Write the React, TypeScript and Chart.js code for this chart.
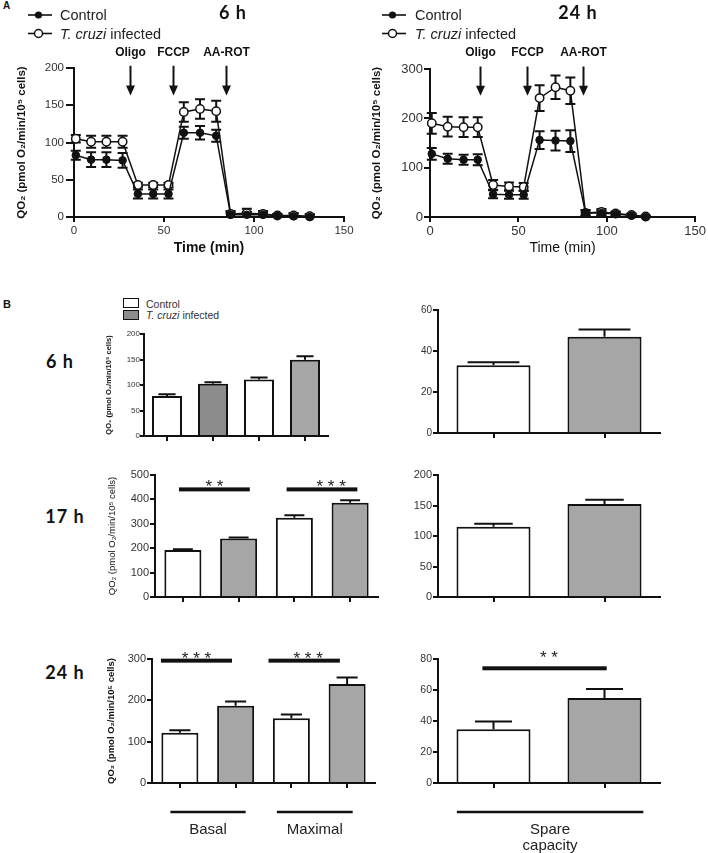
import React, { useEffect, useRef } from 'react';
import { Chart, registerables } from 'chart.js';

Chart.register(...registerables);

const FONT = "'Liberation Sans', Arial, Helvetica, sans-serif";
const HEAD_FONT = "Lato, 'Open Sans', 'Liberation Sans', sans-serif";
const INK = '#111';
const TICK_INK = '#333';
const QO2_TITLE = 'QO₂ (pmol O₂/min/10⁵ cells)';

// ---------------- Panel A : oxygen consumption traces ----------------
const TIME_6H = [1, 9.5, 18, 27, 35.5, 44, 52.5, 61, 70, 79, 87, 96, 105, 113, 122, 131];
const CONTROL_6H = [83, 77, 77, 76, 31, 31, 31, 113, 113, 109, 3, 3, 3, 2, 1, 0];
const CONTROL_6H_SEM = [6, 10, 10, 10, 6, 6, 6, 8, 9, 8, 3, 4, 3, 2, 4, 4];
const INFECTED_6H = [105, 101, 101, 101, 43, 43, 43, 141, 145, 142, 4, 5, 4, 2, 2, 1];
const INFECTED_6H_SEM = [5, 8, 8, 8, 3, 3, 3, 13, 13, 14, 4, 6, 4, 2, 3, 2];

const TIME_24H = [1, 10, 19, 27, 35.7, 44.7, 53, 62, 71, 79.4, 88, 97, 105, 114, 122];
const CONTROL_24H = [128, 118, 116, 116, 46, 45, 45, 156, 155, 154, 8, 8, 6, 3, 0];
const CONTROL_24H_SEM = [12, 10, 10, 11, 8, 8, 8, 18, 20, 22, 5, 5, 4, 3, 2];
const INFECTED_24H = [190, 183, 182, 182, 65, 62, 61, 241, 263, 256, 8, 10, 7, 4, 1];
const INFECTED_24H_SEM = [21, 20, 20, 20, 10, 8, 8, 26, 24, 27, 6, 6, 4, 3, 2];

const INJECTIONS = ['Oligo', 'FCCP', 'AA-ROT'];
const INJECTION_TIMES_6H = [31, 55.2, 84.3];
const INJECTION_TIMES_24H = [28.2, 55.1, 86.5];
const ARROW_SPAN_6H: [number, number] = [203, 163];
const ARROW_SPAN_24H: [number, number] = [305, 246];

// ---------------- Panel B : bar charts ----------------
const BAR_CATEGORIES = ['Basal control', 'Basal T. cruzi', 'Maximal control', 'Maximal T. cruzi'];
const SPARE_CATEGORIES = ['Control', 'T. cruzi infected'];

const QO2_6H = [78.5, 102.5, 111, 149.5];
const QO2_6H_SEM = [3.5, 3, 3.5, 7];
const SPARE_6H = [33, 47];
const SPARE_6H_SEM = [1.5, 3.5];

const QO2_17H = [193, 240, 325, 386];
const QO2_17H_SEM = [3, 4, 10, 11];
const SPARE_17H = [115, 152.5];
const SPARE_17H_SEM = [5, 7];

const QO2_24H = [121.5, 187, 156.5, 239.5];
const QO2_24H_SEM = [6, 10, 9.5, 15.5];
const SPARE_24H = [34.6, 54.8];
const SPARE_24H_SEM = [5, 5.8];

type Sig = { from: number; to: number; y: number; stars: string; at?: number };
const SIG_17H: Sig[] = [
  { from: -0.07, to: 1.2, y: 441, stars: '* *' },
  { from: 1.86, to: 3.13, y: 441, stars: '* * *', at: 2.66 },
];
const SIG_24H: Sig[] = [
  { from: -0.34, to: 0.935, y: 296, stars: '* * *' },
  { from: 1.59, to: 2.87, y: 296, stars: '* * *', at: 2.3 },
];
const SIG_24H_SPARE: Sig[] = [{ from: -0.1, to: 1.02, y: 74, stars: '* *', at: 0.5 }];

type Group = { from: number; to: number; label: string[] };
const GROUPS_LEFT: Group[] = [
  { from: -0.17, to: 1.18, label: ['Basal'] },
  { from: 1.74, to: 3.1, label: ['Maximal'] },
];
const GROUPS_RIGHT: Group[] = [{ from: -0.33, to: 1.35, label: ['Spare', 'capacity'] }];

const WHITE = '#ffffff';
const GRAY = '#a6a6a6';
const DARK_GRAY = '#8c8c8c';

// ---------------- plugins ----------------
function errorPlugin(sems: number[][], o: { before: boolean; cap?: number; capRatio?: number; upOnly?: boolean }) {
  const draw = (chart: any) => {
    const ctx = chart.ctx;
    const y = chart.scales.y;
    ctx.save();
    ctx.strokeStyle = INK;
    ctx.lineWidth = 2;
    chart.data.datasets.forEach((ds: any, di: number) => {
      const errs = sems[di];
      if (!errs) return;
      const meta = chart.getDatasetMeta(di);
      meta.data.forEach((el: any, i: number) => {
        const d = ds.data[i];
        const v = typeof d === 'number' ? d : d.y;
        const e = errs[i] || 0;
        if (!e) return;
        const top = y.getPixelForValue(v + e);
        const bot = o.upOnly ? y.getPixelForValue(v) : y.getPixelForValue(Math.max(v - e, y.min));
        const half = o.capRatio ? (el.width * o.capRatio) / 2 : (o.cap || 10) / 2;
        ctx.beginPath();
        ctx.moveTo(el.x, top);
        ctx.lineTo(el.x, bot);
        ctx.moveTo(el.x - half, top);
        ctx.lineTo(el.x + half, top);
        if (!o.upOnly && v - e > y.min) {
          ctx.moveTo(el.x - half, bot);
          ctx.lineTo(el.x + half, bot);
        }
        ctx.stroke();
      });
    });
    ctx.restore();
  };
  return {
    id: 'errorBars',
    beforeDatasetsDraw(chart: any) { if (o.before) draw(chart); },
    afterDatasetsDraw(chart: any) { if (!o.before) draw(chart); },
  };
}

function arrowPlugin(times: number[], labels: string[], span: [number, number], labelGap: number) {
  return {
    id: 'injections',
    afterDraw(chart: any) {
      const { ctx, scales, chartArea } = chart;
      const x = scales.x, y = scales.y;
      ctx.save();
      ctx.strokeStyle = INK;
      ctx.fillStyle = INK;
      ctx.lineWidth = 2;
      times.forEach((t, i) => {
        const px = Math.round(x.getPixelForValue(t)) + 0.5;
        const top = y.getPixelForValue(span[0]);
        const bot = y.getPixelForValue(span[1]);
        ctx.beginPath();
        ctx.moveTo(px, top);
        ctx.lineTo(px, bot - 8);
        ctx.stroke();
        ctx.beginPath();
        ctx.moveTo(px - 4.5, bot - 10);
        ctx.lineTo(px + 4.5, bot - 10);
        ctx.lineTo(px, bot);
        ctx.closePath();
        ctx.fill();
        ctx.font = `bold 12px ${FONT}`;
        ctx.textAlign = 'center';
        ctx.textBaseline = 'middle';
        ctx.fillText(labels[i], px, chartArea.top - labelGap);
      });
      ctx.restore();
    },
  };
}

function sigPlugin(items: Sig[], gap: number) {
  return {
    id: 'significance',
    afterDatasetsDraw(chart: any) {
      const { ctx, scales } = chart;
      const x = scales.x, y = scales.y;
      ctx.save();
      items.forEach((s) => {
        const x0 = x.getPixelForValue(s.from);
        const x1 = x.getPixelForValue(s.to);
        const py = y.getPixelForValue(s.y);
        ctx.fillStyle = INK;
        ctx.fillRect(x0, py - 2, x1 - x0, 4);
        ctx.fillStyle = '#222';
        ctx.font = `17px ${FONT}`;
        ctx.textAlign = 'center';
        ctx.textBaseline = 'alphabetic';
        const m = ctx.measureText(s.stars);
        const cx = x.getPixelForValue(s.at !== undefined ? s.at : (s.from + s.to) / 2);
        const cy = py - gap;
        ctx.fillText(s.stars, cx, cy + (m.actualBoundingBoxAscent - m.actualBoundingBoxDescent) / 2);
      });
      ctx.restore();
    },
  };
}

function groupPlugin(groups: Group[]) {
  return {
    id: 'groups',
    afterDraw(chart: any) {
      const { ctx, scales, chartArea } = chart;
      const x = scales.x;
      ctx.save();
      groups.forEach((g) => {
        const x0 = x.getPixelForValue(g.from);
        const x1 = x.getPixelForValue(g.to);
        const ly = chartArea.bottom + 29;
        ctx.fillStyle = INK;
        ctx.fillRect(x0, ly - 1.25, x1 - x0, 2.5);
        ctx.fillStyle = '#222';
        ctx.font = `15px ${FONT}`;
        ctx.textAlign = 'center';
        ctx.textBaseline = 'middle';
        g.label.forEach((t, k) => ctx.fillText(t, (x0 + x1) / 2, ly + 18 + k * 16));
      });
      ctx.restore();
    },
  };
}

// ---------------- scale helpers ----------------
function yAxis(o: { max: number; step: number; size: number; tickLen: number; pad: number; title?: string; titleSize?: number; titleBold?: boolean }) {
  return {
    type: 'linear',
    position: 'left',
    min: 0,
    max: o.max,
    z: 1,
    ticks: { stepSize: o.step, color: TICK_INK, font: { family: FONT, size: o.size }, padding: o.pad },
    grid: { display: true, drawOnChartArea: false, drawTicks: true, tickLength: o.tickLen, color: INK, lineWidth: 2 },
    border: { display: true, color: INK, width: 2 },
    title: {
      display: !!o.title,
      text: o.title || '',
      color: INK,
      padding: 0,
      font: { family: FONT, size: o.titleSize || 10, weight: o.titleBold ? 'bold' : 'normal' },
    },
  };
}

function catAxis() {
  return {
    type: 'category',
    position: 'bottom',
    offset: true,
    z: 1,
    ticks: { display: false },
    grid: { display: true, offset: false, drawOnChartArea: false, drawTicks: true, tickLength: 5, color: INK, lineWidth: 2 },
    border: { display: true, color: INK, width: 2 },
  };
}

const BASE_OPTIONS = {
  responsive: false,
  maintainAspectRatio: false,
  animation: false,
  devicePixelRatio: 1,
  events: [] as string[],
};

function lineConfig(p: {
  time: number[]; control: number[]; controlSem: number[]; infected: number[]; infectedSem: number[];
  yMax: number; yStep: number; tickSize: number; yTickLen: number; yTickPad: number;
  timeBold: boolean; injections: number[]; span: [number, number]; labelGap: number;
}) {
  return {
    type: 'line',
    data: {
      datasets: [
        {
          label: 'Control',
          data: p.time.map((t, i) => ({ x: t, y: p.control[i] })),
          borderColor: INK, borderWidth: 1.5, tension: 0, clip: false,
          pointRadius: 3.8, pointBackgroundColor: INK, pointBorderColor: INK, pointBorderWidth: 1,
        },
        {
          label: 'T. cruzi infected',
          data: p.time.map((t, i) => ({ x: t, y: p.infected[i] })),
          borderColor: INK, borderWidth: 1.5, tension: 0, clip: false,
          pointRadius: 4.2, pointBackgroundColor: '#fff', pointBorderColor: INK, pointBorderWidth: 1.5,
        },
      ],
    },
    options: {
      ...BASE_OPTIONS,
      plugins: { legend: { display: false }, tooltip: { enabled: false } },
      scales: {
        x: {
          type: 'linear', position: 'bottom', min: 0, max: 150,
          ticks: { stepSize: 50, color: TICK_INK, font: { family: FONT, size: p.tickSize }, padding: 2, maxRotation: 0 },
          grid: { display: true, drawOnChartArea: false, drawTicks: true, tickLength: 5, color: INK, lineWidth: 2 },
          border: { display: true, color: INK, width: 2 },
          title: { display: true, text: 'Time (min)', color: INK, padding: 0, font: { family: FONT, size: 14, weight: p.timeBold ? 'bold' : 'normal' } },
        },
        y: yAxis({ max: p.yMax, step: p.yStep, size: p.tickSize, tickLen: p.yTickLen, pad: p.yTickPad, title: QO2_TITLE, titleSize: 11.5, titleBold: true }),
      },
    },
    plugins: [
      errorPlugin([p.controlSem, p.infectedSem], { before: true, cap: 10 }),
      arrowPlugin(p.injections, INJECTIONS, p.span, p.labelGap),
    ],
  };
}

function barConfig(p: {
  labels: string[]; values: number[]; sems: number[]; colors: string[]; barPct: number; capRatio: number;
  yMax: number; yStep: number; tickSize: number; tickLen: number; pad: number;
  title?: string; titleSize?: number; titleBold?: boolean; sig?: Sig[]; sigGap?: number; groups?: Group[];
}) {
  const plugins: any[] = [errorPlugin([p.sems], { before: false, capRatio: p.capRatio, upOnly: true })];
  if (p.sig) plugins.push(sigPlugin(p.sig, p.sigGap || 6));
  if (p.groups) plugins.push(groupPlugin(p.groups));
  return {
    type: 'bar',
    data: {
      labels: p.labels,
      datasets: [
        {
          data: p.values,
          backgroundColor: p.colors,
          borderColor: INK,
          borderWidth: 2,
          borderSkipped: 'start',
          barPercentage: p.barPct,
          categoryPercentage: 1,
        },
      ],
    },
    options: {
      ...BASE_OPTIONS,
      plugins: { legend: { display: false }, tooltip: { enabled: false } },
      scales: {
        x: catAxis(),
        y: yAxis({ max: p.yMax, step: p.yStep, size: p.tickSize, tickLen: p.tickLen, pad: p.pad, title: p.title, titleSize: p.titleSize, titleBold: p.titleBold }),
      },
    },
    plugins,
  };
}

// ---------------- layout ----------------
type Box = { x0: number; y0: number; x1: number; y1: number; l: number; t: number; r: number; b: number };

function ChartPanel({ box, make }: { box: Box; make: () => any }) {
  const ref = useRef<HTMLCanvasElement | null>(null);
  const w = box.x1 - box.x0 + box.l + box.r;
  const h = box.y1 - box.y0 + box.t + box.b;
  useEffect(() => {
    const cfg = make();
    cfg.options.layout = { padding: { left: 0, top: box.t, right: box.r, bottom: 0 } };
    cfg.options.scales.x.afterFit = (s: any) => { s.height = box.b; };
    cfg.options.scales.y.afterFit = (s: any) => { s.width = box.l; };
    const chart = new Chart(ref.current as HTMLCanvasElement, cfg);
    return () => chart.destroy();
  }, []);
  return (
    <canvas
      ref={ref}
      width={w}
      height={h}
      style={{ position: 'absolute', left: box.x0 - box.l, top: box.y0 - box.t, width: w, height: h }}
    />
  );
}

function Txt({ x, y, children, style, align = 'center' }: { x: number; y: number; children: any; style?: any; align?: string }) {
  const tx = align === 'center' ? '-50%' : '0';
  return (
    <div
      style={{
        position: 'absolute', left: x, top: y, transform: `translate(${tx}, -50%)`,
        whiteSpace: 'nowrap', lineHeight: 1, fontFamily: FONT, color: INK, ...style,
      }}
    >
      {children}
    </div>
  );
}

function LineLegend({ x, textX }: { x: number; textX: number }) {
  return (
    <>
      <svg style={{ position: 'absolute', left: x, top: 7 }} width={26} height={36}>
        <line x1={0} y1={8} x2={24} y2={8} stroke={INK} strokeWidth={1.6} />
        <circle cx={10.5} cy={8} r={3.6} fill={INK} />
        <line x1={0} y1={26.5} x2={24} y2={26.5} stroke={INK} strokeWidth={1.6} />
        <circle cx={10.5} cy={26.5} r={4} fill="#fff" stroke={INK} strokeWidth={1.5} />
      </svg>
      <Txt x={textX} y={15} align="left" style={{ fontSize: 14.5, color: '#222' }}>Control</Txt>
      <Txt x={textX} y={33.5} align="left" style={{ fontSize: 14.5, color: '#222' }}>
        <i>T. cruzi</i> infected
      </Txt>
    </>
  );
}

const HEAD = { fontFamily: HEAD_FONT, fontWeight: 700, fontSize: 18, letterSpacing: 1 };

export default function App() {
  return (
    <div style={{ position: 'absolute', left: 0, top: 0, width: 708, height: 853, background: '#fff', overflow: 'hidden' }}>
      {/* Panel A */}
      <ChartPanel
        box={{ x0: 74, x1: 344, y0: 68, y1: 217, l: 59, t: 28, r: 14, b: 40 }}
        make={() => lineConfig({
          time: TIME_6H, control: CONTROL_6H, controlSem: CONTROL_6H_SEM, infected: INFECTED_6H, infectedSem: INFECTED_6H_SEM,
          yMax: 200, yStep: 50, tickSize: 11.5, yTickLen: 8, yTickPad: 2, timeBold: true,
          injections: INJECTION_TIMES_6H, span: ARROW_SPAN_6H, labelGap: 15,
        })}
      />
      <ChartPanel
        box={{ x0: 430, x1: 696, y0: 69, y1: 217, l: 60, t: 29, r: 12, b: 40 }}
        make={() => lineConfig({
          time: TIME_24H, control: CONTROL_24H, controlSem: CONTROL_24H_SEM, infected: INFECTED_24H, infectedSem: INFECTED_24H_SEM,
          yMax: 300, yStep: 100, tickSize: 13, yTickLen: 6, yTickPad: 1, timeBold: false,
          injections: INJECTION_TIMES_24H, span: ARROW_SPAN_24H, labelGap: 16,
        })}
      />
      <Txt x={3} y={6} align="left" style={{ fontSize: 10, fontWeight: 700 }}>A</Txt>
      <LineLegend x={28} textX={60} />
      <LineLegend x={382} textX={415} />
      <Txt x={233} y={12} style={HEAD}>6 h</Txt>
      <Txt x={578} y={12} style={HEAD}>24 h</Txt>

      {/* Panel B */}
      <Txt x={3} y={304} align="left" style={{ fontSize: 11, fontWeight: 700 }}>B</Txt>
      <div style={{ position: 'absolute', left: 123, top: 298, width: 14, height: 8, border: `1.5px solid ${INK}`, background: WHITE }} />
      <div style={{ position: 'absolute', left: 123, top: 310, width: 14, height: 8, border: `1.5px solid ${INK}`, background: DARK_GRAY }} />
      <Txt x={146} y={303.5} align="left" style={{ fontSize: 10.5, color: '#333' }}>Control</Txt>
      <Txt x={146} y={315} align="left" style={{ fontSize: 10.5, color: '#333' }}><i>T. cruzi</i> infected</Txt>

      <Txt x={60} y={361} style={HEAD}>6 h</Txt>
      <Txt x={65} y={516} style={HEAD}>17 h</Txt>
      <Txt x={65} y={672} style={HEAD}>24 h</Txt>

      <ChartPanel
        box={{ x0: 144, x1: 328, y0: 334, y1: 436, l: 40, t: 10, r: 8, b: 10 }}
        make={() => barConfig({
          labels: BAR_CATEGORIES, values: QO2_6H, sems: QO2_6H_SEM, colors: [WHITE, DARK_GRAY, WHITE, GRAY],
          barPct: 0.652, capRatio: 0.57, yMax: 200, yStep: 50, tickSize: 8, tickLen: 4, pad: 0,
          title: QO2_TITLE, titleSize: 7.5, titleBold: true,
        })}
      />
      <ChartPanel
        box={{ x0: 438, x1: 660, y0: 310, y1: 433, l: 30, t: 10, r: 10, b: 10 }}
        make={() => barConfig({
          labels: SPARE_CATEGORIES, values: SPARE_6H, sems: SPARE_6H_SEM, colors: [WHITE, GRAY],
          barPct: 0.667, capRatio: 0.7, yMax: 60, yStep: 20, tickSize: 10, tickLen: 5, pad: 1,
        })}
      />
      <ChartPanel
        box={{ x0: 155, x1: 378, y0: 475, y1: 597, l: 48, t: 10, r: 10, b: 10 }}
        make={() => barConfig({
          labels: BAR_CATEGORIES, values: QO2_17H, sems: QO2_17H_SEM, colors: [WHITE, GRAY, WHITE, GRAY],
          barPct: 0.664, capRatio: 0.54, yMax: 500, yStep: 100, tickSize: 11, tickLen: 5, pad: 1,
          title: QO2_TITLE, titleSize: 9.5, titleBold: false, sig: SIG_17H, sigGap: 6.6,
        })}
      />
      <ChartPanel
        box={{ x0: 438, x1: 660, y0: 475, y1: 597, l: 30, t: 10, r: 10, b: 10 }}
        make={() => barConfig({
          labels: SPARE_CATEGORIES, values: SPARE_17H, sems: SPARE_17H_SEM, colors: [WHITE, GRAY],
          barPct: 0.667, capRatio: 0.52, yMax: 200, yStep: 50, tickSize: 11, tickLen: 5, pad: 1,
        })}
      />
      <ChartPanel
        box={{ x0: 152, x1: 375, y0: 659, y1: 783, l: 46, t: 12, r: 10, b: 70 }}
        make={() => barConfig({
          labels: BAR_CATEGORIES, values: QO2_24H, sems: QO2_24H_SEM, colors: [WHITE, GRAY, WHITE, GRAY],
          barPct: 0.664, capRatio: 0.57, yMax: 300, yStep: 100, tickSize: 11, tickLen: 5, pad: 1,
          title: QO2_TITLE, titleSize: 9.5, titleBold: true, sig: SIG_24H, sigGap: 6, groups: GROUPS_LEFT,
        })}
      />
      <ChartPanel
        box={{ x0: 438, x1: 660, y0: 659, y1: 783, l: 30, t: 12, r: 10, b: 70 }}
        make={() => barConfig({
          labels: SPARE_CATEGORIES, values: SPARE_24H, sems: SPARE_24H_SEM, colors: [WHITE, GRAY],
          barPct: 0.667, capRatio: 0.5, yMax: 80, yStep: 20, tickSize: 10.5, tickLen: 5, pad: 1,
          sig: SIG_24H_SPARE, sigGap: 14, groups: GROUPS_RIGHT,
        })}
      />
    </div>
  );
}
